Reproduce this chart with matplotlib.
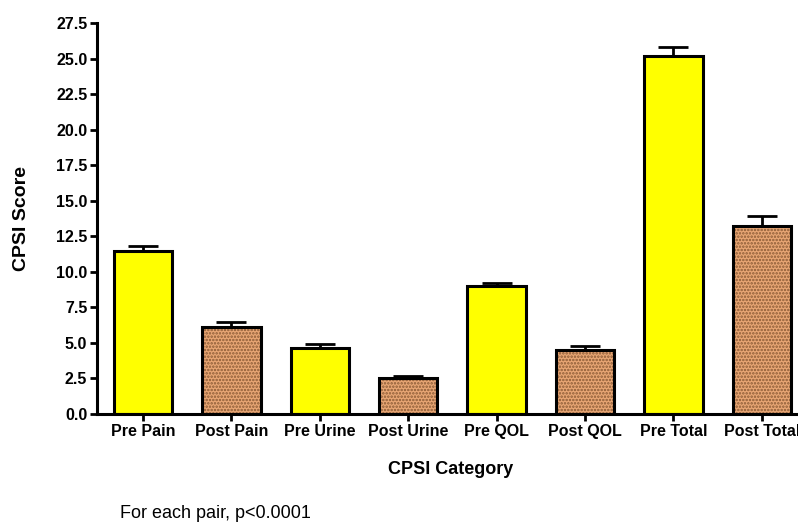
#!/usr/bin/env python3
# -*- coding: utf-8 -*-
import matplotlib
matplotlib.use('Agg')
import matplotlib.pyplot as plt

plt.rcParams['font.family'] = ['Liberation Sans', 'DejaVu Sans']
plt.rcParams['hatch.linewidth'] = 1.2

categories = ['Pre Pain', 'Post Pain', 'Pre Urine', 'Post Urine',
              'Pre QOL', 'Post QOL', 'Pre Total', 'Post Total']
means = [11.5, 6.1, 4.65, 2.55, 9.0, 4.5, 25.2, 13.2]
errors = [0.3, 0.4, 0.3, 0.15, 0.25, 0.25, 0.6, 0.7]
yticks = [0.0, 2.5, 5.0, 7.5, 10.0, 12.5, 15.0, 17.5, 20.0, 22.5, 25.0, 27.5]

fig = plt.figure(figsize=(7.98, 5.28), dpi=100)
ax = fig.add_axes([0.1216, 0.216, 0.8784, 0.740])

x = range(len(categories))
for i in x:
    pre = (i % 2 == 0)
    ax.bar(i, means[i], width=0.66,
           color='#ffff00' if pre else '#e8a674',
           edgecolor='black', linewidth=2.2,
           hatch=None if pre else '.....', zorder=2)
    ax.errorbar(i, means[i], yerr=[[0], [errors[i]]], fmt='none',
                ecolor='black', elinewidth=2, capsize=11, capthick=2, zorder=1)

# hatch colour for the dotted bars
for p in ax.patches:
    if p.get_hatch():
        p._hatch_color = matplotlib.colors.to_rgba('#8a5a35')

ax.set_xlim(-0.52, 7.41)
ax.set_ylim(0, 27.5)
ax.set_yticks(yticks)
ax.set_yticklabels(['%.1f' % t for t in yticks], fontsize=11.5, fontweight='bold')
ax.set_xticks(list(x))
ax.set_xticklabels(categories, fontsize=11.5, fontweight='bold')

for s in ['top', 'right']:
    ax.spines[s].set_visible(False)
for s in ['left', 'bottom']:
    ax.spines[s].set_linewidth(2.2)
ax.tick_params(axis='both', direction='out', length=5, width=2, pad=2)

ax.set_ylabel('CPSI Score', fontsize=14, fontweight='bold', va='center', ha='center')
ax.yaxis.set_label_coords(-0.108, 0.50)
ax.set_xlabel('CPSI Category', fontsize=13, fontweight='bold', va='center', ha='center')
ax.xaxis.set_label_coords(0.505, -0.141)

fig.text(0.150, 0.028, 'For each pair, p<0.0001', fontsize=13, ha='left', va='center')

fig.savefig('out.png', dpi=100)
